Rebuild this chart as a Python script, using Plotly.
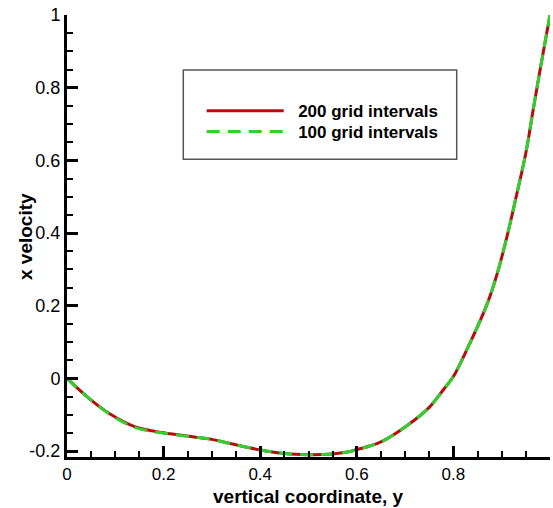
import plotly.graph_objects as go

# data
y_coord = [0.0, 0.05, 0.09, 0.14, 0.20, 0.26, 0.30, 0.34, 0.40, 0.45, 0.50, 0.55, 0.58, 0.60,
           0.65, 0.70, 0.75, 0.78, 0.80, 0.83, 0.87, 0.89, 0.91, 0.93, 0.95, 0.965, 0.982, 1.0]
u_200 = [0.0, -0.060, -0.099, -0.133, -0.150, -0.161, -0.168, -0.180, -0.197, -0.207, -0.210,
         -0.208, -0.203, -0.196, -0.175, -0.134, -0.080, -0.030, 0.005, 0.085, 0.205, 0.285,
         0.385, 0.500, 0.620, 0.738, 0.868, 1.0]
u_100 = [0.0, -0.060, -0.100, -0.135, -0.151, -0.161, -0.168, -0.180, -0.197, -0.207, -0.210,
         -0.208, -0.203, -0.196, -0.175, -0.134, -0.080, -0.030, 0.005, 0.085, 0.205, 0.285,
         0.385, 0.500, 0.620, 0.738, 0.868, 1.0]
names = ["200 grid intervals", "100 grid intervals"]
x_title = "vertical coordinate, y"
y_title = "x velocity"
x_ticks = [0, 0.2, 0.4, 0.6, 0.8, 1]
x_ticktext = ["0", "0.2", "0.4", "0.6", "0.8", "1"]
x_minor = [0.05, 0.1, 0.15, 0.25, 0.3, 0.35, 0.45, 0.5, 0.55, 0.65, 0.7, 0.75, 0.85, 0.9, 0.95]
y_ticks = [-0.2, 0, 0.2, 0.4, 0.6, 0.8, 1]
y_ticktext = ["-0.2", "0", "0.2", "0.4", "0.6", "0.8", "1"]

FONT = "Liberation Sans, Arial, sans-serif"
RED = "#b80c0c"
GREEN = "#2ed12e"

L, R, T, B = 67, 3, 15, 51
W, H = 553, 508
pw = W - L - R
ph = H - T - B


def px2x(p):
    return (p - L) / pw


def py2y(p):
    return (H - B - p) / ph


fig = go.Figure()
fig.add_trace(go.Scatter(x=y_coord, y=u_200, mode="lines", name="\u00a0\u00a0" + names[0],
                         legend="legend",
                         line=dict(color=RED, width=3, shape="spline", smoothing=1.0)))
fig.add_trace(go.Scatter(x=y_coord, y=u_100, mode="lines", name="\u00a0\u00a0" + names[1],
                         legend="legend2",
                         line=dict(color=GREEN, width=3, shape="spline", smoothing=1.0,
                                   dash="13px,8px")))

fig.add_shape(type="rect", xref="paper", yref="paper",
              x0=px2x(183.3), x1=px2x(456.7), y0=py2y(159.3), y1=py2y(70),
              line=dict(color="#555555", width=1.5), fillcolor="rgba(0,0,0,0)")

fig.update_layout(
    xaxis=dict(range=[0, 1.0], tickmode="array", tickvals=x_ticks, ticktext=x_ticktext,
               tickfont=dict(family=FONT, size=17, color="black"),
               showgrid=False, zeroline=False, showline=True, linecolor="black", linewidth=3,
               ticks="inside", ticklen=11, tickwidth=3, tickcolor="#000000",
               layer="above traces",
               minor=dict(ticks="inside", ticklen=6, tickwidth=2, tickcolor="#000000",
                          tickmode="array", tickvals=x_minor, showgrid=False)),
    yaxis=dict(range=[-0.2165, 1.0], tickmode="array", tickvals=y_ticks, ticktext=y_ticktext,
               tickfont=dict(family=FONT, size=18, color="black"),
               showgrid=False, zeroline=False, showline=True, linecolor="black", linewidth=3,
               ticks="inside", ticklen=11, tickwidth=3, tickcolor="#000000",
               layer="above traces",
               minor=dict(ticks="inside", ticklen=6, tickwidth=2, tickcolor="#000000",
                          tickmode="linear", tick0=-0.2, dtick=0.05, showgrid=False)),
)

title_font = dict(family=FONT, size=19, color="black", weight="bold")
fig.add_annotation(text=x_title, xref="paper", yref="paper", x=px2x(308.3), y=py2y(496.5),
                   xanchor="center", yanchor="middle", showarrow=False, font=title_font)
fig.add_annotation(text=y_title, xref="paper", yref="paper", x=px2x(25), y=py2y(237),
                   xanchor="center", yanchor="middle", showarrow=False, textangle=-90,
                   font=title_font)

leg_common = dict(xanchor="left", yanchor="top", bgcolor="rgba(0,0,0,0)", borderwidth=0,
                  itemwidth=77, font=dict(family=FONT, size=17, color="black", weight="bold"))

fig.update_layout(
    width=W, height=H,
    margin=dict(l=L, r=R, t=T, b=B),
    paper_bgcolor="white", plot_bgcolor="white",
    showlegend=True,
    legend=dict(x=px2x(201.7), y=py2y(93.3), **leg_common),
    legend2=dict(x=px2x(201.7), y=py2y(114), **leg_common),
)

fig.write_html("out.html")
